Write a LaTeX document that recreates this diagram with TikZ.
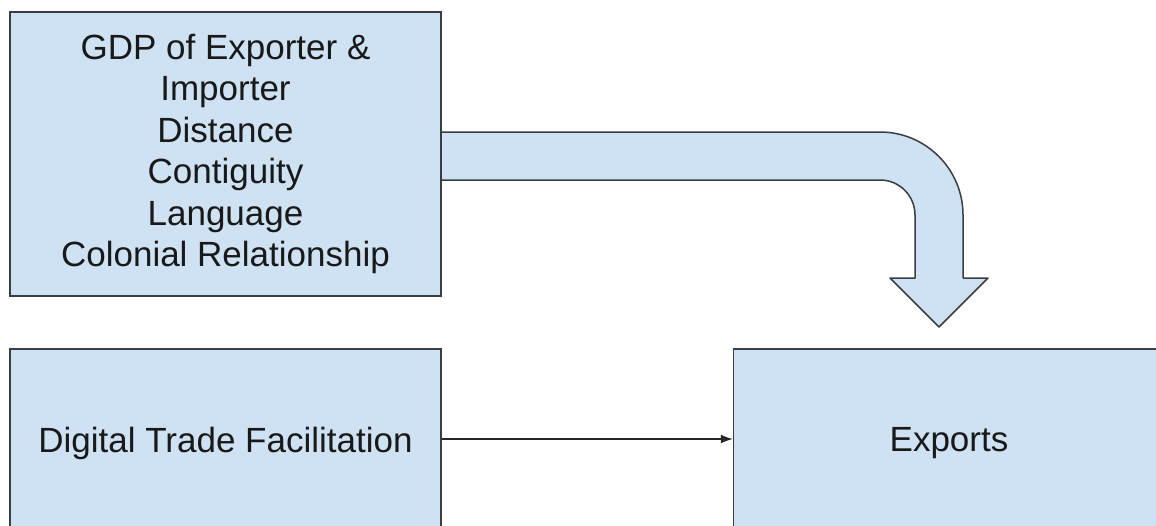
\documentclass[tikz,border=0pt]{standalone}
\usepackage{fontspec}
\setmainfont{Liberation Sans}
\usetikzlibrary{arrows.meta}
\definecolor{boxfill}{HTML}{CFE2F3}
\definecolor{boxline}{HTML}{3A3D40}
\begin{document}
\begin{tikzpicture}[x=1pt,y=-1pt,
  box/.style={draw=boxline, fill=boxfill, line width=1.5pt, minimum width=431pt,
    inner sep=0pt, align=center, font=\fontsize{35}{41.5}\selectfont, text=black!90},
  blockarrow/.style={draw=boxline, fill=boxfill, line width=1.5pt, line join=round},
  link/.style={draw=black!85, line width=1.3pt, -{Latex[length=12pt,width=9pt]}}]
\useasboundingbox (0,0) rectangle (1156,525);
\clip (0,0) rectangle (1156,525);
\node[box, minimum height=284pt] (g) at (225.5,154) {GDP of Exporter \&\\Importer\\Distance\\Contiguity\\Language\\Colonial Relationship};
\node[box, minimum height=188pt] (d) at (225.5,443) {Digital Trade Facilitation};
\node[box, minimum height=188pt] (e) at (949,443) {Exports};
\path (d.east) ++(0,-4) coordinate (c1);
\coordinate (c2) at (c1 -| e.west);
\draw[link] (c1) -- (c2);
\coordinate (s1) at (441,132);
\coordinate (s2) at (441,180);
\draw[blockarrow] (s1) -- (880,132) .. controls (925.8,132) and (963,169.2) .. (963,215)
  -- (963,278) -- (988,278) -- (939,327) -- (890,278) -- (915,278) -- (915,215)
  .. controls (915,195.7) and (899.3,180) .. (880,180) -- (s2) -- cycle;
\end{tikzpicture}
\end{document}
